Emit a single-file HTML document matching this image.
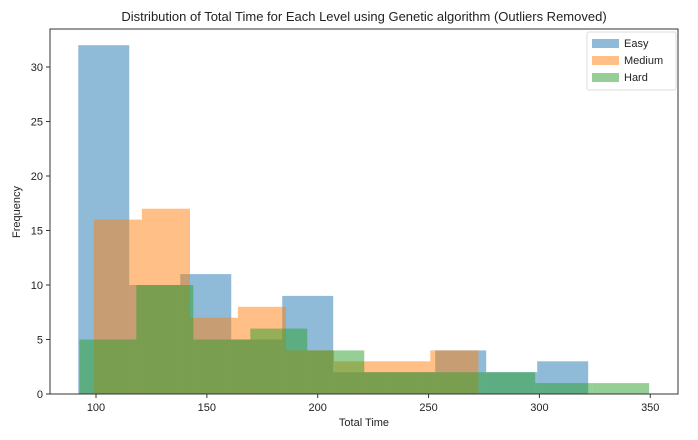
<!DOCTYPE html>
<html><head><meta charset="utf-8"><style>
body{margin:0;background:#fff;}
svg{display:block;font-family:"Liberation Sans",sans-serif;}
</style></head><body>
<svg id="chart" width="698" height="440">
<text x="364" y="21" font-size="13" text-anchor="middle" fill="#222">Distribution of Total Time for Each Level using Genetic algorithm (Outliers Removed)</text>
<g id="bars"></g>
<g id="axes"></g>
<text x="364" y="426" font-size="11" text-anchor="middle" fill="#222">Total Time</text>
<text x="20" y="212" font-size="11" text-anchor="middle" fill="#222" transform="rotate(-90 20 212)">Frequency</text>
<g>
<rect x="587" y="32" width="89" height="58" fill="#fff" stroke="#ddd" rx="2"/>
<rect x="592" y="39" width="27" height="9" fill="#1f77b4" opacity="0.5"/>
<text x="624" y="47" font-size="11" fill="#222">Easy</text>
<rect x="592" y="56" width="27" height="9" fill="#ff7f0e" opacity="0.5"/>
<text x="624" y="64" font-size="11" fill="#222">Medium</text>
<rect x="592" y="73" width="27" height="9" fill="#2ca02c" opacity="0.5"/>
<text x="624" y="81" font-size="11" fill="#222">Hard</text>
</g>
</svg>
<script>
const easyEdges=[92,115,138,161,184,207,230,253,276,299,322];
const easyCounts=[32,10,11,5,9,2,2,4,2,3];
const mediumEdges=[99,120.7,142.4,164,185.7,207.4,229,250.8,272.5];
const mediumCounts=[16,17,7,8,4,3,3,4];
const hardEdges=[92.5,118.2,143.9,169.6,195.3,221,246.7,272.4,298.1,323.8,349.5];
const hardCounts=[5,10,5,6,4,2,2,2,1,1];
const xTicks=[100,150,200,250,300,350];
const yTicks=[0,5,10,15,20,25,30];
const L=50,R=678,T=29,B=394;
function xs(v){return 96+(v-100)*2.217;}
function ys(v){return B-v*10.9;}
const NS="http://www.w3.org/2000/svg";
const bars=document.getElementById('bars');
function series(edges,counts,color,name){
  for(let i=0;i<counts.length;i++){
    const r=document.createElementNS(NS,'rect');
    r.setAttribute('x',xs(edges[i]));
    r.setAttribute('width',xs(edges[i+1])-xs(edges[i]));
    r.setAttribute('y',ys(counts[i]));
    r.setAttribute('height',B-ys(counts[i]));
    r.setAttribute('fill',color);
    r.setAttribute('fill-opacity','0.5');
    
    
    bars.appendChild(r);
  }
}
series(easyEdges,easyCounts,'#1f77b4','easy');
series(mediumEdges,mediumCounts,'#ff7f0e','medium');
series(hardEdges,hardCounts,'#2ca02c','hard');
const ax=document.getElementById('axes');
let h='<rect x="'+L+'" y="'+T+'" width="'+(R-L)+'" height="'+(B-T)+'" fill="none" stroke="#333" stroke-width="1"/>';
xTicks.forEach(t=>{const x=xs(t);h+='<line x1="'+x+'" x2="'+x+'" y1="'+B+'" y2="'+(B+4)+'" stroke="#333"/><text x="'+x+'" y="'+(B+17)+'" font-size="11" text-anchor="middle" fill="#222">'+t+'</text>';});
yTicks.forEach(t=>{const y=ys(t);h+='<line x1="'+(L-4)+'" x2="'+L+'" y1="'+y+'" y2="'+y+'" stroke="#333"/><text x="'+(L-7)+'" y="'+(y+4)+'" font-size="11" text-anchor="end" fill="#222">'+t+'</text>';});
ax.innerHTML=h;


</script>
</body></html>
